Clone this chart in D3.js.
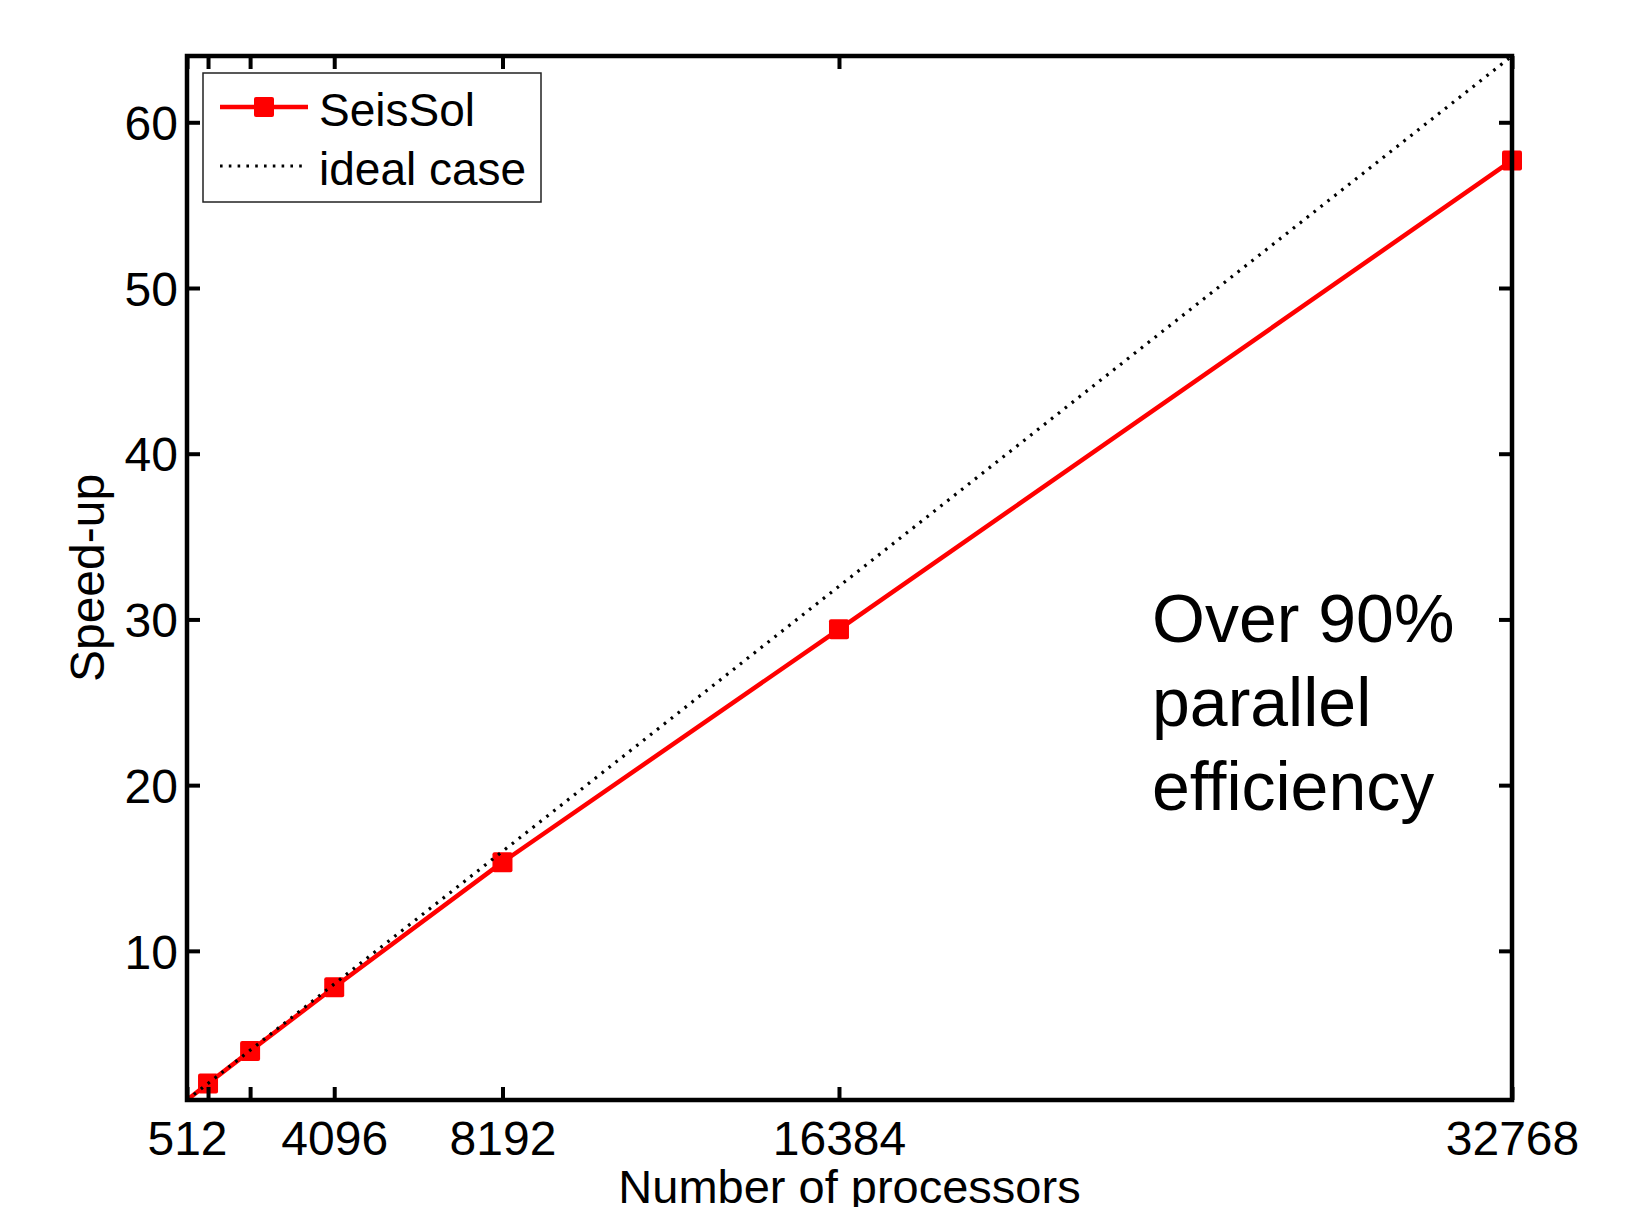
<!DOCTYPE html>
<html>
<head>
<meta charset="utf-8">
<script src="https://cdn.jsdelivr.net/npm/d3@7"></script>
<style>
  body { margin: 0; background: #fff; }
  text { font-family: "Liberation Sans", Arial, Helvetica, sans-serif; fill: #000; }
</style>
</head>
<body>
<script>
// data
var procs = [512, 1024, 2048, 4096, 8192, 16384, 32768];
var seisSolSpeedup = [1, 2, 3.95, 7.8, 15.35, 29.4, 57.7];
var idealSpeedup = [1, 2, 4, 8, 16, 32, 64];

var xTickValues = [512, 1024, 2048, 4096, 8192, 16384, 32768];
var xTickLabels = ["512", "", "", "4096", "8192", "16384", "32768"];
var yTickValues = [10, 20, 30, 40, 50, 60];

var seriesNames = ["SeisSol", "ideal case"];
var noteLines = ["Over 90%", "parallel", "efficiency"];

// dimensions
var width = 1645;
var height = 1207;
var margin = { top: 56, right: 133, bottom: 107, left: 187 };
var innerW = width - margin.left - margin.right;
var innerH = height - margin.top - margin.bottom;

var svg = d3.select("body")
    .append("svg")
    .attr("width", width)
    .attr("height", height);

var g = svg.append("g")
    .attr("transform", "translate(" + margin.left + "," + margin.top + ")");

var x = d3.scaleLinear().domain([512, 32768]).range([0, innerW]);
var y = d3.scaleLinear().domain([1, 64]).range([innerH, 0]);

var seis = procs.map(function(p, i) { return { p: p, s: seisSolSpeedup[i] }; });
var ideal = procs.map(function(p, i) { return { p: p, s: idealSpeedup[i] }; });

var line = d3.line()
    .x(function(d) { return x(d.p); })
    .y(function(d) { return y(d.s); });

// SeisSol line + markers
g.append("path")
    .datum(seis)
    .attr("d", line)
    .attr("fill", "none")
    .attr("stroke", "#ff0000")
    .attr("stroke-width", 4.5);

var ms = 20;
g.selectAll(".marker")
    .data(seis.slice(1))
    .enter().append("rect")
    .attr("class", "marker")
    .attr("x", function(d) { return x(d.p) - ms / 2; })
    .attr("y", function(d) { return y(d.s) - ms / 2; })
    .attr("width", ms)
    .attr("height", ms)
    .attr("rx", 2)
    .attr("fill", "#ff0000");

// ideal case, dotted, on top
g.append("path")
    .datum(ideal)
    .attr("d", line)
    .attr("fill", "none")
    .attr("stroke", "#000")
    .attr("stroke-width", 3.2)
    .attr("stroke-dasharray", "2.6,6.2");

// axes (ticks pointing inwards on all four sides)
var tickLen = 13;
function styleAxis(sel) {
    sel.select(".domain").remove();
    sel.selectAll(".tick line").attr("stroke", "#000").attr("stroke-width", 4);
    sel.selectAll(".tick text").style("font-size", "48px").attr("fill", "#000");
}

var xAxis = g.append("g")
    .attr("transform", "translate(0," + innerH + ")")
    .call(d3.axisBottom(x).tickValues(xTickValues).tickSize(-tickLen)
        .tickFormat(function(d, i) { return xTickLabels[i]; }))
    .call(styleAxis);
xAxis.selectAll(".tick text").attr("y", 55).attr("dy", 0);

g.append("g")
    .call(d3.axisTop(x).tickValues(xTickValues).tickSize(-tickLen).tickFormat(""))
    .call(styleAxis);

var yAxis = g.append("g")
    .call(d3.axisLeft(y).tickValues(yTickValues).tickSize(-tickLen).tickPadding(9))
    .call(styleAxis);
yAxis.selectAll(".tick text").attr("dy", "0.36em");

g.append("g")
    .attr("transform", "translate(" + innerW + ",0)")
    .call(d3.axisRight(y).tickValues(yTickValues).tickSize(-tickLen).tickFormat(""))
    .call(styleAxis);

// frame
g.append("rect")
    .attr("width", innerW)
    .attr("height", innerH)
    .attr("fill", "none")
    .attr("stroke", "#000")
    .attr("stroke-width", 4.5);

// axis titles (the reference crops the x title at the bottom edge)
svg.append("text")
    .attr("x", margin.left + innerW / 2)
    .attr("y", 1203)
    .attr("text-anchor", "middle")
    .style("font-size", "47px")
    .text("Number of processors");

svg.append("text")
    .attr("transform", "translate(104," + (margin.top + innerH / 2) + ") rotate(-90)")
    .attr("text-anchor", "middle")
    .style("font-size", "48px")
    .text("Speed-up");

// legend
var legend = svg.append("g").attr("transform", "translate(203,73)");
legend.append("rect")
    .attr("width", 338)
    .attr("height", 129)
    .attr("fill", "#fff")
    .attr("stroke", "#222")
    .attr("stroke-width", 1.5);

legend.append("line")
    .attr("x1", 17).attr("x2", 105).attr("y1", 34).attr("y2", 34)
    .attr("stroke", "#ff0000").attr("stroke-width", 4.5);
legend.append("rect")
    .attr("x", 61 - ms / 2).attr("y", 34 - ms / 2)
    .attr("width", ms).attr("height", ms).attr("rx", 2)
    .attr("fill", "#ff0000");
legend.append("line")
    .attr("x1", 17).attr("x2", 105).attr("y1", 93).attr("y2", 93)
    .attr("stroke", "#000").attr("stroke-width", 3.2)
    .attr("stroke-dasharray", "2.6,6.2");

legend.selectAll(".ltext")
    .data(seriesNames)
    .enter().append("text")
    .attr("class", "ltext")
    .attr("x", 116)
    .attr("y", function(d, i) { return 53 + i * 59; })
    .style("font-size", "46px")
    .text(function(d) { return d; });

// annotation
svg.selectAll(".note")
    .data(noteLines)
    .enter().append("text")
    .attr("class", "note")
    .attr("x", 1152)
    .attr("y", function(d, i) { return 642 + i * 84; })
    .style("font-size", "68px")
    .text(function(d) { return d; });
</script>
</body>
</html>
